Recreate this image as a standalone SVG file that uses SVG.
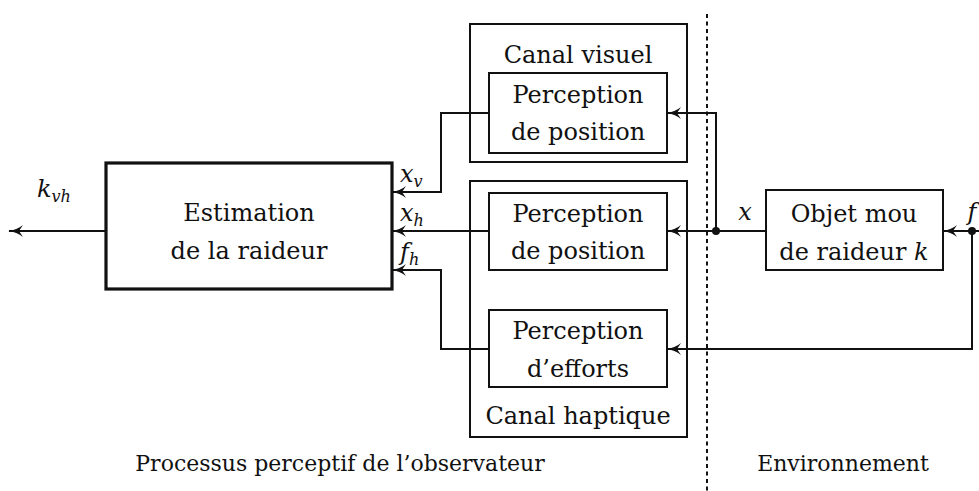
<svg xmlns="http://www.w3.org/2000/svg" width="979" height="491" viewBox="0 0 979 491" font-family="DejaVu Serif, serif">
<style>
text{font-size:24px;fill:#111;text-anchor:middle}
.m{font-style:italic}
.sub{font-size:16px;font-style:italic}
.lbl{font-size:22px}
.box{fill:#fff;stroke:#111;stroke-width:2}
.thick{fill:#fff;stroke:#111;stroke-width:3.2}
.ln{fill:none;stroke:#111;stroke-width:2}
</style>
<defs>
<marker id="ar" markerWidth="18" markerHeight="14" refX="15" refY="7" orient="auto" markerUnits="userSpaceOnUse">
<path d="M1,1 Q7,6 16,7 Q7,8 1,13 L5,7 Z" fill="#111"/>
</marker>
</defs>
<line x1="707" y1="14" x2="707" y2="491" stroke="#111" stroke-width="2" stroke-dasharray="4,3.5"/>
<g id="canal-visuel">
<rect class="box" x="470" y="24" width="217" height="138"/>
<text x="578" y="63">Canal visuel</text>
</g>
<g id="canal-haptique">
<rect class="box" x="470" y="181" width="217" height="256"/>
<text x="578" y="424">Canal haptique</text>
</g>
<g id="perc-pos-visuel">
<rect class="box" x="489" y="73" width="178" height="80"/>
<text x="578" y="103">Perception</text>
<text x="578" y="140">de position</text>
</g>
<g id="perc-pos-haptique">
<rect class="box" x="489" y="193" width="178" height="77"/>
<text x="578" y="222">Perception</text>
<text x="578" y="259">de position</text>
</g>
<g id="perc-efforts">
<rect class="box" x="489" y="310" width="178" height="77"/>
<text x="578" y="339">Perception</text>
<text x="578" y="377">d’efforts</text>
</g>
<g id="estimation">
<rect class="thick" x="106" y="163" width="286" height="126"/>
<text x="249" y="221">Estimation</text>
<text x="249" y="259">de la raideur</text>
</g>
<g id="objet">
<rect class="box" x="766" y="190" width="177" height="80"/>
<text x="854" y="222">Objet mou</text>
<text x="854" y="260">de raideur <tspan class="m">k</tspan></text>
</g>
<g id="connectors">
<line class="ln" x1="106" y1="231" x2="9" y2="231" marker-end="url(#ar)"/>
<polyline class="ln" points="489,113 441,113 441,192 392,192" marker-end="url(#ar)"/>
<line class="ln" x1="489" y1="231" x2="392" y2="231" marker-end="url(#ar)"/>
<polyline class="ln" points="489,349 441,349 441,270 392,270" marker-end="url(#ar)"/>
<line class="ln" x1="766" y1="231" x2="667" y2="231" marker-end="url(#ar)"/>
<polyline class="ln" points="716,231 716,113 667,113" marker-end="url(#ar)"/>
<line class="ln" x1="979" y1="231" x2="943" y2="231" marker-end="url(#ar)"/>
<polyline class="ln" points="972,231 972,349 667,349" marker-end="url(#ar)"/>
<circle cx="716" cy="231" r="4" fill="#111"/>
<circle cx="972" cy="231" r="4" fill="#111"/>
</g>
<g id="labels">
<text x="37" y="197" style="text-anchor:start"><tspan class="m">k</tspan><tspan class="sub" dy="5">vh</tspan></text>
<text x="400" y="182" style="text-anchor:start"><tspan class="m">x</tspan><tspan class="sub" dy="5">v</tspan></text>
<text x="400" y="221" style="text-anchor:start"><tspan class="m">x</tspan><tspan class="sub" dy="5">h</tspan></text>
<text x="400" y="260" style="text-anchor:start"><tspan class="m">f</tspan><tspan class="sub" dy="5">h</tspan></text>
<text x="745" y="220" class="m">x</text>
<text x="972" y="220" class="m">f</text>
<text x="340" y="471" class="lbl">Processus perceptif de l’observateur</text>
<text x="843" y="471" class="lbl">Environnement</text>
</g>
</svg>
